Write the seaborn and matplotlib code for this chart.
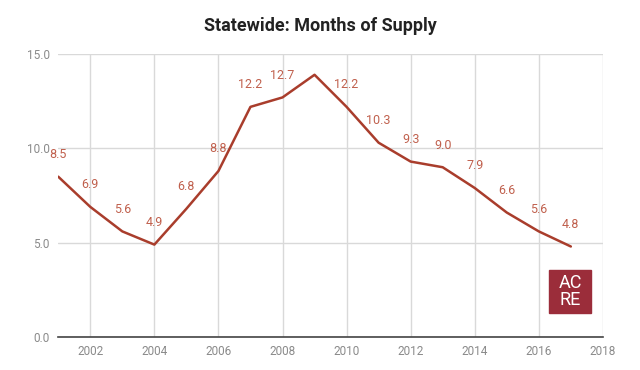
import pandas as pd
import matplotlib.pyplot as plt
import seaborn as sns
from matplotlib.patches import Rectangle

# data
years = [2001, 2002, 2003, 2004, 2005, 2006, 2007, 2008, 2009,
         2010, 2011, 2012, 2013, 2014, 2015, 2016, 2017]
supply = [8.5, 6.9, 5.6, 4.9, 6.8, 8.8, 12.2, 12.7, 13.9,
          12.2, 10.3, 9.3, 9.0, 7.9, 6.6, 5.6, 4.8]
labels = ['8.5', '6.9', '5.6', '4.9', '6.8', '8.8', '12.2', '12.7', '',
          '12.2', '10.3', '9.3', '9.0', '7.9', '6.6', '5.6', '4.8']
x_ticks = [2002, 2004, 2006, 2008, 2010, 2012, 2014, 2016, 2018]
y_ticks = [0, 5, 10, 15]

df = pd.DataFrame({'year': years, 'supply': supply})

sns.set_style('white')
plt.rcParams['font.family'] = ['Roboto', 'DejaVu Sans']

fig = plt.figure(figsize=(6.4, 3.7), dpi=100)
ax = fig.add_axes([0.091, 0.089, 0.851, 0.765])

line_color = '#a93d2c'
label_color = '#c0604d'
grid_color = '#d9d9d9'
tick_color = '#8a8a8a'

sns.lineplot(data=df, x='year', y='supply', color=line_color, linewidth=1.8, ax=ax)

# value labels above each point
for x, y, t in zip(years, supply, labels):
    if t:
        ax.annotate(t, (x, y), xytext=(0, 16), textcoords='offset points',
                    ha='center', va='center', fontsize=9, color=label_color)

ax.set_xlim(2001, 2018)
ax.set_ylim(0, 15)
ax.set_xticks(x_ticks)
ax.set_yticks(y_ticks)
ax.set_xticklabels([str(t) for t in x_ticks])
ax.set_yticklabels([f'{t:.1f}' for t in y_ticks])
ax.tick_params(axis='both', labelsize=8.5, colors=tick_color, length=0, pad=6)

ax.grid(True, color=grid_color, linewidth=1)
ax.set_axisbelow(True)
for side in ['left', 'top', 'right']:
    ax.spines[side].set_visible(False)
ax.spines['bottom'].set_color('#444444')
ax.spines['bottom'].set_linewidth(1.2)
ax.set_xlabel('')
ax.set_ylabel('')

fig.suptitle('Statewide: Months of Supply', y=0.955, fontsize=13,
             fontweight='bold', color='#222222')

# ACRE logo box
fig.patches.append(Rectangle((549 / 640, 1 - 313 / 370), 42 / 640, 43 / 370,
                             transform=fig.transFigure, color='#9b2d3a'))
fig.text(570 / 640, 1 - 291.5 / 370, 'AC\nRE', ha='center', va='center',
         color='white', fontsize=13, linespacing=0.9)

plt.savefig('out.png', dpi=100)
